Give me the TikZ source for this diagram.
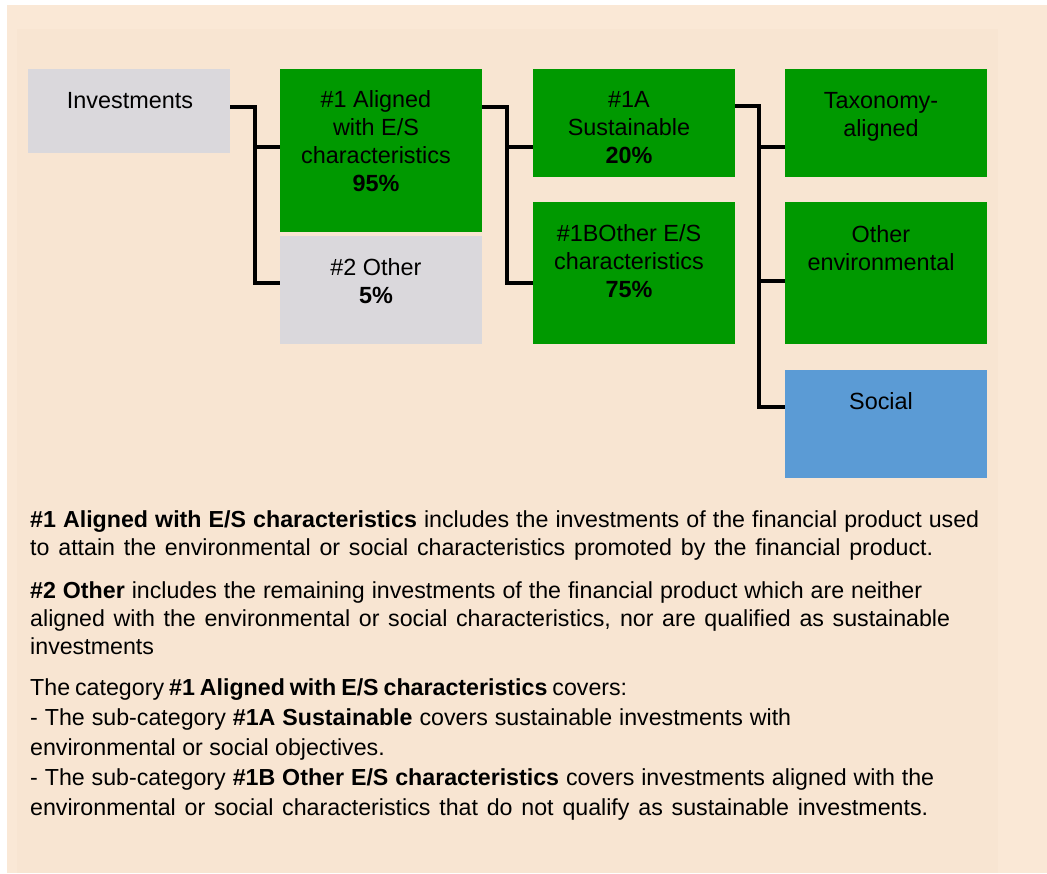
\documentclass[tikz,border=0pt]{standalone}
\usepackage{fontspec}
\setmainfont{Liberation Sans}
\definecolor{outerbg}{HTML}{FAE8D6}
\definecolor{innerbg}{HTML}{F8E5D2}
\definecolor{boxgray}{HTML}{DAD8DC}
\definecolor{boxgreen}{HTML}{009900}
\definecolor{boxblue}{HTML}{5B9BD5}
\newcommand{\ctab}[1]{\begin{tabular}[t]{@{}c@{}}#1\end{tabular}}
\newcommand{\ltab}[1]{\begin{tabular}[t]{@{}l@{}}#1\end{tabular}}
\newcommand{\wl}[2]{\makebox[#1pt][s]{#2}}
\begin{document}
\begin{tikzpicture}[x=1pt,y=-1pt,
  box/.style={draw=none, inner sep=0pt, outer sep=0pt, anchor=north west, minimum width=202pt},
  lbl/.style={anchor=base, inner sep=0pt, xshift=-5pt, font=\fontsize{23.4}{28}\selectfont},
  para/.style={anchor=base west, inner sep=0pt, font=\fontsize{23.2}{28}\selectfont},
  conn/.style={line width=3.6pt, black, line cap=butt, line join=miter}]
\useasboundingbox (0,0) rectangle (1047,873);
\fill[outerbg] (7,5) rectangle (1047,873);
\fill[innerbg] (17,29) rectangle (998,873);

% boxes
\node[box, fill=boxgray, minimum height=84pt] (inv) at (28,69) {};
\node[box, fill=boxgreen, minimum height=163pt] (a1) at (280,69) {};
\node[box, fill=boxgray, minimum height=108pt] (a2) at (280,236) {};
\node[box, fill=boxgreen, minimum height=108pt] (s1a) at (533,69) {};
\node[box, fill=boxgreen, minimum height=142pt] (s1b) at (533,202) {};
\node[box, fill=boxgreen, minimum height=108pt] (tax) at (785,69) {};
\node[box, fill=boxgreen, minimum height=142pt] (oenv) at (785,202) {};
\node[box, fill=boxblue, minimum height=108pt] (soc) at (785,370) {};

% labels
\node[lbl, xshift=6pt] (inv-t) at ([yshift=-39pt]inv.north) {Investments};
\node[lbl] (a1-t) at ([yshift=-38pt]a1.north) {\ctab{\#1 Aligned\\with E/S\\characteristics\\\textbf{95\%}}};
\node[lbl] (a2-t) at ([yshift=-39pt]a2.north) {\ctab{\#2 Other\\\textbf{5\%}}};
\node[lbl] (s1a-t) at ([yshift=-38pt]s1a.north) {\ctab{\#1A\\Sustainable\\\textbf{20\%}}};
\node[lbl] (s1b-t) at ([yshift=-39pt]s1b.north) {\ctab{\#1BOther E/S\\characteristics\\\textbf{75\%}}};
\node[lbl] (tax-t) at ([yshift=-39pt]tax.north) {\ctab{Taxonomy-\\aligned}};
\node[lbl] (oenv-t) at ([yshift=-40pt]oenv.north) {\ctab{Other\\environmental}};
\node[lbl] (soc-t) at ([yshift=-39pt]soc.north) {Social};

% connectors
\draw[conn] (inv.east |- 0,107) -| (255,283) -- (a2.west |- 0,283);
\draw[conn] (255,147) -- (a1.west |- 0,147);
\draw[conn] (a1.east |- 0,107) -| (507,283) -- (s1b.west |- 0,283);
\draw[conn] (507,147) -- (s1a.west |- 0,147);
\draw[conn] (s1a.east |- 0,106) -| (759,407) -- (soc.west |- 0,407);
\draw[conn] (759,147) -- (tax.west |- 0,147);
\draw[conn] (759,281) -- (oenv.west |- 0,281);

% explanatory text
\node[para] (p1) at (30,527) {\ltab{\wl{949}{\textbf{\#1 Aligned with E/S characteristics} includes the investments of the financial product used}\\\wl{903}{to attain the environmental or social characteristics promoted by the financial product.}}};
\node[para] (p2) at (30,598) {\ltab{\wl{892}{\textbf{\#2 Other} includes the remaining investments of the financial product which are neither}\\\wl{920}{aligned with the environmental or social characteristics, nor are qualified as sustainable}\\investments}};
\node[para, font=\fontsize{23.2}{30}\selectfont] (p3) at (30,695) {\ltab{\wl{597}{The category \textbf{\#1 Aligned with E/S characteristics} covers:}\\\wl{761}{- The sub-category \textbf{\#1A Sustainable} covers sustainable investments with}\\environmental or social objectives.\\\wl{904}{- The sub-category \textbf{\#1B Other E/S characteristics} covers investments aligned with the}\\\wl{898}{environmental or social characteristics that do not qualify as sustainable investments.}}};
\end{tikzpicture}
\end{document}
